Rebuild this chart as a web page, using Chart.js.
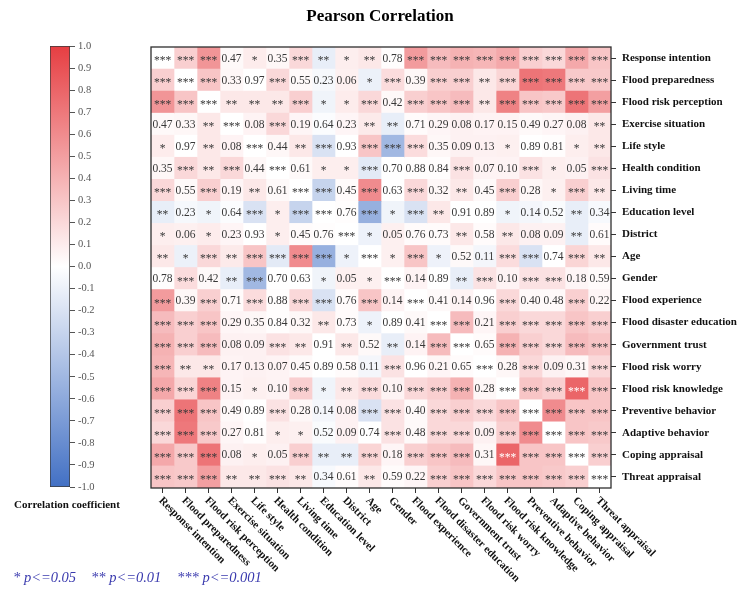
<!DOCTYPE html>
<html>
<head>
<meta charset="utf-8">
<script src="https://cdn.jsdelivr.net/npm/chart.js@4/dist/chart.umd.min.js"></script>
<style>
  html, body { margin: 0; padding: 0; background: #fff; }
  #wrap { position: relative; width: 739px; height: 590px; }
  #heat, #scaleBar { position: absolute; left: 0; top: 0; }
</style>
</head>
<body>
<div id="wrap">
  <canvas id="heat" width="739" height="590" style="width:739px;height:590px"></canvas>
  <canvas id="scaleBar" width="150" height="590" style="width:150px;height:590px"></canvas>
</div>
<script>
// Survey variables (rows top-to-bottom, columns left-to-right)
const variables = [
  'Response intention', 'Flood preparedness', 'Flood risk perception', 'Exercise situation',
  'Life style', 'Health condition', 'Living time', 'Education level', 'District', 'Age',
  'Gender', 'Flood experience', 'Flood disaster education', 'Government trust',
  'Flood risk worry', 'Flood risk knowledge', 'Preventive behavior', 'Adaptive behavior',
  'Coping appraisal', 'Threat appraisal'
];

// Pearson r for each pair; the diagonal is left blank (null)
const corrRespIntention  = [null, .25, .55, .03, .10, .04, .20, -.12, .09, .12, .01, .52, .35, .40, .38, .45, .25, .20, .45, .30];
const corrPreparedness   = [.25, null, .30, .04, .00, .20, .03, -.05, .08, -.10, .18, .04, .25, .25, .12, .22, .72, .70, .28, .28];
const corrRiskPerception = [.55, .30, null, .12, .12, .12, .25, -.08, .10, .20, .03, .25, .30, .35, .12, .65, .30, .28, .72, .50];
const corrExercise       = [.03, .04, .12, null, .06, .20, .05, -.02, .05, .11, -.12, .02, .05, .07, .06, .06, .03, .05, .07, .12];
const corrLifeStyle      = [.10, .00, .12, .06, null, .04, .12, -.20, .00, .30, -.50, .18, .04, .07, .07, .08, .00, .01, .09, .12];
const corrHealth         = [.04, .20, .12, .20, .04, null, .03, .09, .09, -.15, .00, .01, .01, .15, .06, .06, .15, .09, .07, .15];
const corrLivingTime     = [.20, .03, .25, .05, .12, .03, null, -.30, .02, .60, .00, .20, .04, .12, .03, .25, .04, .08, .25, .12];
const corrEducation      = [-.12, -.05, -.08, -.02, -.20, .09, -.30, null, .01, -.55, -.08, -.20, .12, .00, .00, -.08, -.06, -.03, -.12, -.04];
const corrDistrict       = [.09, .08, .10, .05, .00, .09, .02, .01, null, -.09, .08, .02, .02, .12, .02, .12, .07, .07, -.12, .02];
const corrAge            = [.12, -.10, .20, .11, .30, -.15, .60, -.55, -.09, null, .08, .30, -.09, .03, -.06, .18, -.20, .00, .22, .12];
const corrGender         = [.01, .18, .03, -.12, -.50, .00, .00, -.08, .08, .08, null, .06, .00, -.12, .15, .06, .15, .15, .05, .02];
const corrExperience     = [.52, .04, .25, .02, .18, .01, .20, -.20, .02, .30, .06, null, .03, .06, .00, .20, .03, .03, .25, .05];
const corrEducationFlood = [.35, .25, .30, .05, .04, .01, .04, .12, .02, -.09, .00, .03, null, .35, .05, .25, .20, .20, .30, .25];
const corrGovTrust       = [.40, .25, .35, .07, .07, .15, .12, .00, .12, .03, -.12, .06, .35, null, .02, .40, .25, .20, .35, .30];
const corrRiskWorry      = [.38, .12, .12, .06, .07, .06, .03, .00, .02, -.06, .15, .00, .05, .02, null, .04, .20, .07, .04, .20];
const corrRiskKnowledge  = [.45, .22, .65, .06, .08, .06, .25, -.08, .12, .18, .06, .20, .25, .40, .04, null, .30, .25, .80, .30];
const corrPreventive     = [.25, .72, .30, .03, .00, .15, .04, -.06, .07, -.20, .15, .03, .20, .25, .20, .30, null, .60, .30, .30];
const corrAdaptive       = [.20, .70, .28, .05, .01, .09, .08, -.03, .07, .00, .15, .03, .20, .20, .07, .25, .60, null, .30, .28];
const corrCoping         = [.45, .28, .72, .07, .09, .07, .25, -.12, -.12, .22, .05, .25, .30, .35, .04, .80, .30, .30, null, .25];
const corrThreat         = [.30, .28, .50, .12, .12, .15, .12, -.04, .02, .12, .02, .05, .25, .30, .20, .30, .30, .28, .25, null];

// Significance stars, or the p value where not significant
const sigRespIntention  = ['***','***','***','0.47','*','0.35','***','**','*','**','0.78','***','***','***','***','***','***','***','***','***'];
const sigPreparedness   = ['***','***','***','0.33','0.97','***','0.55','0.23','0.06','*','***','0.39','***','***','**','***','***','***','***','***'];
const sigRiskPerception = ['***','***','***','**','**','**','***','*','*','***','0.42','***','***','***','**','***','***','***','***','***'];
const sigExercise       = ['0.47','0.33','**','***','0.08','***','0.19','0.64','0.23','**','**','0.71','0.29','0.08','0.17','0.15','0.49','0.27','0.08','**'];
const sigLifeStyle      = ['*','0.97','**','0.08','***','0.44','**','***','0.93','***','***','***','0.35','0.09','0.13','*','0.89','0.81','*','**'];
const sigHealth         = ['0.35','***','**','***','0.44','***','0.61','*','*','***','0.70','0.88','0.84','***','0.07','0.10','***','*','0.05','***'];
const sigLivingTime     = ['***','0.55','***','0.19','**','0.61','***','***','0.45','***','0.63','***','0.32','**','0.45','***','0.28','*','***','**'];
const sigEducation      = ['**','0.23','*','0.64','***','*','***','***','0.76','***','*','***','**','0.91','0.89','*','0.14','0.52','**','0.34'];
const sigDistrict       = ['*','0.06','*','0.23','0.93','*','0.45','0.76','***','*','0.05','0.76','0.73','**','0.58','**','0.08','0.09','**','0.61'];
const sigAge            = ['**','*','***','**','***','***','***','***','*','***','*','***','*','0.52','0.11','***','***','0.74','***','**'];
const sigGender         = ['0.78','***','0.42','**','***','0.70','0.63','*','0.05','*','***','0.14','0.89','**','***','0.10','***','***','0.18','0.59'];
const sigExperience     = ['***','0.39','***','0.71','***','0.88','***','***','0.76','***','0.14','***','0.41','0.14','0.96','***','0.40','0.48','***','0.22'];
const sigEducationFlood = ['***','***','***','0.29','0.35','0.84','0.32','**','0.73','*','0.89','0.41','***','***','0.21','***','***','***','***','***'];
const sigGovTrust       = ['***','***','***','0.08','0.09','***','**','0.91','**','0.52','**','0.14','***','***','0.65','***','***','***','***','***'];
const sigRiskWorry      = ['***','**','**','0.17','0.13','0.07','0.45','0.89','0.58','0.11','***','0.96','0.21','0.65','***','0.28','***','0.09','0.31','***'];
const sigRiskKnowledge  = ['***','***','***','0.15','*','0.10','***','*','**','***','0.10','***','***','***','0.28','***','***','***','***','***'];
const sigPreventive     = ['***','***','***','0.49','0.89','***','0.28','0.14','0.08','***','***','0.40','***','***','***','***','***','***','***','***'];
const sigAdaptive       = ['***','***','***','0.27','0.81','*','*','0.52','0.09','0.74','***','0.48','***','***','0.09','***','***','***','***','***'];
const sigCoping         = ['***','***','***','0.08','*','0.05','***','**','**','***','0.18','***','***','***','0.31','***','***','***','***','***'];
const sigThreat         = ['***','***','***','**','**','***','**','0.34','0.61','**','0.59','0.22','***','***','***','***','***','***','***','***'];

// Colour-bar tick values
const colorbarTicks = [1.0, 0.9, 0.8, 0.7, 0.6, 0.5, 0.4, 0.3, 0.2, 0.1, 0.0,
  -0.1, -0.2, -0.3, -0.4, -0.5, -0.6, -0.7, -0.8, -0.9, -1.0];

const corr = [corrRespIntention, corrPreparedness, corrRiskPerception, corrExercise, corrLifeStyle,
  corrHealth, corrLivingTime, corrEducation, corrDistrict, corrAge, corrGender, corrExperience,
  corrEducationFlood, corrGovTrust, corrRiskWorry, corrRiskKnowledge, corrPreventive, corrAdaptive,
  corrCoping, corrThreat];
const sig = [sigRespIntention, sigPreparedness, sigRiskPerception, sigExercise, sigLifeStyle,
  sigHealth, sigLivingTime, sigEducation, sigDistrict, sigAge, sigGender, sigExperience,
  sigEducationFlood, sigGovTrust, sigRiskWorry, sigRiskKnowledge, sigPreventive, sigAdaptive,
  sigCoping, sigThreat];

// Diverging palette: blue (-1) -> white (0) -> red (+1)
const POS_END = [230, 62, 66];
const NEG_END = [66, 112, 196];
function heatColor(v) {
  if (v === null) return 'rgb(255,255,255)';
  const t = Math.min(1, Math.abs(v));
  const end = v >= 0 ? POS_END : NEG_END;
  const c = end.map(e => Math.round(255 + (e - 255) * t));
  return `rgb(${c[0]},${c[1]},${c[2]})`;
}

const SERIF = "'Liberation Serif', 'Times New Roman', serif";

// One dataset per column; each bar spans one cell horizontally
const datasets = variables.map((name, j) => ({
  label: name,
  data: variables.map(() => [j, j + 1]),
  backgroundColor: variables.map((_, i) => heatColor(corr[i][j])),
  borderWidth: 0,
  grouped: false,
  barPercentage: 1,
  categoryPercentage: 1
}));

// Labels inside the cells, the frame, rotated column names, title and key
const cellText = {
  id: 'cellText',
  afterDatasetsDraw(chart) {
    const { ctx, scales: { x, y } } = chart;
    ctx.save();
    ctx.textAlign = 'center';
    ctx.textBaseline = 'middle';
    ctx.font = `11.5px ${SERIF}`;
    for (let i = 0; i < variables.length; i++) {
      for (let j = 0; j < variables.length; j++) {
        const txt = sig[i][j];
        const v = corr[i][j];
        const cx = x.getPixelForValue(j + 0.5);
        const cy = y.getPixelForValue(i);
        ctx.fillStyle = (v !== null && v > 0.75) ? '#ffffff' : '#383838';
        const dy = txt.startsWith('*') ? 3 : 0.5;
        ctx.fillText(txt, cx, cy + dy);
      }
    }
    ctx.restore();
  },
  afterDraw(chart) {
    const { ctx, chartArea: a, scales: { x } } = chart;
    ctx.save();
    // frame
    ctx.strokeStyle = '#2e2e2e';
    ctx.lineWidth = 1.3;
    ctx.strokeRect(a.left, a.top, a.right - a.left, a.bottom - a.top);
    // column names, rotated down-right from each tick
    ctx.fillStyle = '#111';
    ctx.font = `bold 11px ${SERIF}`;
    ctx.textAlign = 'left';
    ctx.textBaseline = 'middle';
    x.ticks.forEach((t, k) => {
      const px = x.getPixelForValue(t.value);
      ctx.save();
      ctx.translate(px - 2, a.bottom + 11);
      ctx.rotate(Math.PI / 4);
      ctx.fillText(variables[k], 0, 0);
      ctx.restore();
    });
    // title
    ctx.font = `bold 17px ${SERIF}`;
    ctx.textAlign = 'center';
    ctx.textBaseline = 'middle';
    ctx.fillStyle = '#000';
    ctx.fillText('Pearson Correlation', 380, 17);
    // significance key
    ctx.font = `italic 14.5px ${SERIF}`;
    ctx.textAlign = 'left';
    ctx.textBaseline = 'alphabetic';
    ctx.fillStyle = '#3a3aae';
    ctx.fillText('* p<=0.05', 13, 582);
    ctx.fillText('** p<=0.01', 91, 582);
    ctx.fillText('*** p<=0.001', 177, 582);
    ctx.restore();
  }
};

new Chart(document.getElementById('heat'), {
  type: 'bar',
  data: { labels: variables, datasets },
  options: {
    indexAxis: 'y',
    responsive: false,
    animation: false,
    layout: { padding: { left: 151, top: 47, right: 0, bottom: 96 } },
    plugins: { legend: { display: false }, tooltip: { enabled: false }, title: { display: false } },
    scales: {
      x: {
        type: 'linear', min: 0, max: variables.length, position: 'bottom',
        afterBuildTicks(s) { s.ticks = variables.map((_, j) => ({ value: j + 0.5 })); },
        grid: { drawOnChartArea: false, drawTicks: true, tickLength: 5, color: '#333', lineWidth: 1 },
        border: { display: false },
        ticks: { display: false },
        afterFit(s) { s.height = 6; }
      },
      y: {
        type: 'category', position: 'right', offset: true,
        grid: { offset: false, drawOnChartArea: false, drawTicks: true, tickLength: 5, color: '#333', lineWidth: 1 },
        border: { display: false },
        ticks: { autoSkip: false, padding: 6, color: '#111', font: { family: SERIF, size: 11, weight: 'bold' } },
        afterFit(s) { s.width = 128; }
      }
    }
  },
  plugins: [cellText]
});

// Colour bar with its own scale
const barCaption = {
  id: 'barCaption',
  afterDraw(chart) {
    const { ctx } = chart;
    ctx.save();
    ctx.font = `bold 11px ${SERIF}`;
    ctx.textAlign = 'center';
    ctx.textBaseline = 'middle';
    ctx.fillStyle = '#111';
    ctx.fillText('Correlation coefficient', 67, 505);
    ctx.restore();
  }
};

new Chart(document.getElementById('scaleBar'), {
  type: 'bar',
  data: {
    labels: ['r'],
    datasets: [{
      data: [[-1, 1]],
      backgroundColor(c) {
        const chart = c.chart;
        if (!chart.chartArea) return '#fff';
        const ys = chart.scales.y;
        const g = chart.ctx.createLinearGradient(0, ys.getPixelForValue(1), 0, ys.getPixelForValue(-1));
        g.addColorStop(0, heatColor(1));
        g.addColorStop(0.5, heatColor(0));
        g.addColorStop(1, heatColor(-1));
        return g;
      },
      borderColor: '#3a3a3a',
      borderWidth: 1,
      borderSkipped: false,
      barPercentage: 1,
      categoryPercentage: 1
    }]
  },
  options: {
    responsive: false,
    animation: false,
    layout: { padding: { left: 50, top: 46, right: 40, bottom: 103 } },
    plugins: { legend: { display: false }, tooltip: { enabled: false } },
    scales: {
      x: { display: false },
      y: {
        min: -1, max: 1, position: 'right',
        afterBuildTicks(s) { s.ticks = colorbarTicks.map(v => ({ value: v })); },
        grid: { drawOnChartArea: false, drawTicks: true, tickLength: 5, color: '#555' },
        border: { display: false },
        ticks: {
          padding: 3, color: '#555', font: { family: SERIF, size: 10.5 },
          callback: v => (Math.round(v * 10) / 10).toFixed(1)
        },
        afterFit(s) { s.width = 40; }
      }
    }
  },
  plugins: [barCaption]
});
</script>
</body>
</html>
